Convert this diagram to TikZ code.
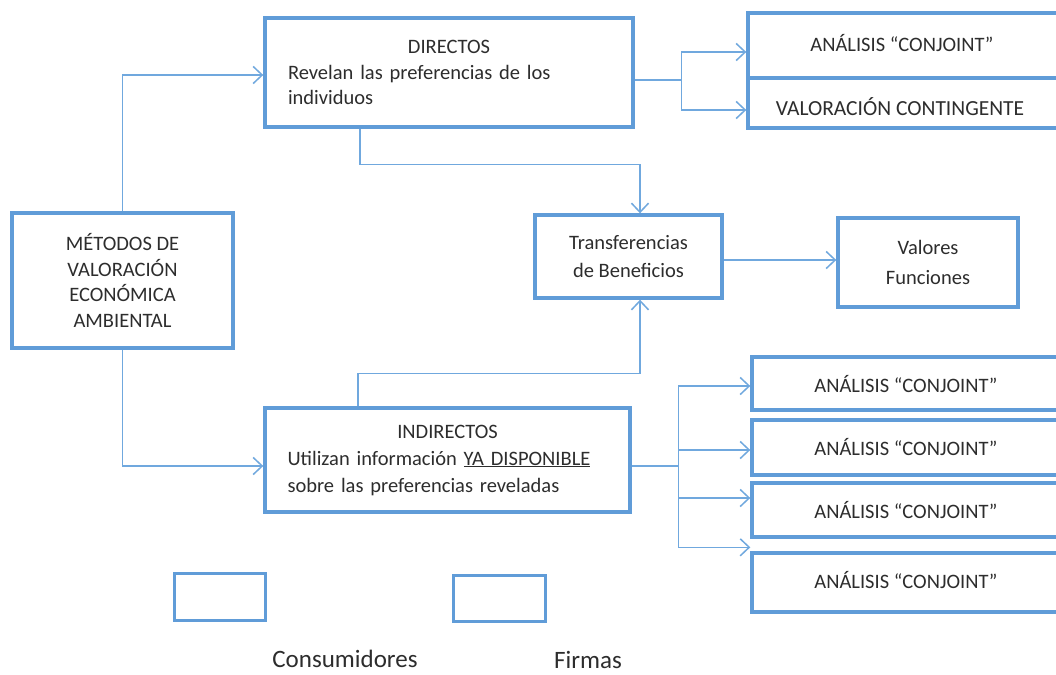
\documentclass[tikz,border=0pt]{standalone}
\usepackage{fontspec}
\setmainfont{Carlito}
\usetikzlibrary{arrows.meta,calc}
\definecolor{boxblue}{RGB}{96,156,216}
\definecolor{linkblue}{RGB}{112,168,222}
\definecolor{ink}{RGB}{45,45,45}
\tikzset{
  box/.style={draw=boxblue, line width=3.4pt, fill=white, text=ink, inner sep=0pt},
  legbox/.style={draw=boxblue, line width=3pt, fill=white},
  conn/.style={draw=linkblue, line width=1.5pt},
  arr/.style={conn, -{Straight Barb[length=9pt,width=17pt,line width=1.5pt]}},
  txt/.style={text=ink, inner sep=0pt},
  big/.style={font=\fontsize{20.5}{25.5}\selectfont},
}
\begin{document}
\begin{tikzpicture}[x=1pt,y=-1pt]
\useasboundingbox (0,0) rectangle (1056,674);
\fill[white] (0,0) rectangle (1056,674);
\clip (0,0) rectangle (1056,674);

% main boxes
\node[box, big, minimum width=221pt, minimum height=135pt, align=center] (met) at (122.5,280.5)
  {MÉTODOS DE\\VALORACIÓN\\ECONÓMICA\\AMBIENTAL};
\node[box, big, minimum width=368pt, minimum height=109pt, text width=322pt, align=left] (dir) at (449,72.5)
  {\makebox[322pt]{DIRECTOS}\\Revelan las preferencias de los\\individuos};
\node[box, minimum width=365pt, minimum height=104pt, text width=320pt, align=left,
  font=\fontsize{20.5}{27}\selectfont] (ind) at (447.5,460)
  {\makebox[320pt]{INDIRECTOS}\\Utilizan información \underline{YA DISPONIBLE}\\sobre las preferencias reveladas};
\node[box, minimum width=187pt, minimum height=83pt, align=center,
  font=\fontsize{20.5}{28}\selectfont] (tr) at (628.5,256.5)
  {Transferencias\\de Beneficios};
\node[box, minimum width=180pt, minimum height=89pt, align=center,
  font=\fontsize{20.5}{30}\selectfont] (val) at (928,262.5)
  {Valores\\Funciones};

% right-hand boxes (extend past the right edge)
\node[box, minimum width=352pt, minimum height=65pt] (c1) at (924,45.5) {};
\node[box, minimum width=352pt, minimum height=50pt] (c2) at (924,103) {};
\node[box, minimum width=348pt, minimum height=53pt] (ra) at (926,383.5) {};
\node[box, minimum width=348pt, minimum height=55pt] (rb) at (926,447.5) {};
\node[box, minimum width=348pt, minimum height=54pt] (rc) at (926,510) {};
\node[box, minimum width=348pt, minimum height=59pt] (rd) at (926,582.5) {};

\node[txt, big] (t1) at (902,43) {ANÁLISIS “CONJOINT”};
\node[txt, font=\fontsize{21.5}{25}\selectfont] (t2) at (900,107) {VALORACIÓN CONTINGENTE};
\node[txt, big] (ta) at (906,384) {ANÁLISIS “CONJOINT”};
\node[txt, big] (tb) at (906,447) {ANÁLISIS “CONJOINT”};
\node[txt, big] (tc) at (906,510) {ANÁLISIS “CONJOINT”};
\node[txt, big] (td) at (906,580) {ANÁLISIS “CONJOINT”};

% legend
\node[legbox, minimum width=91pt, minimum height=47pt] (leg1) at (219.5,596.5) {};
\node[legbox, minimum width=92pt, minimum height=46pt] (leg2) at (499,598) {};
\node[txt, font=\fontsize{25}{28}\selectfont] (lc) at (345,659) {Consumidores};
\node[txt, font=\fontsize{25}{28}\selectfont] (lf) at (588,660) {Firmas};

% connectors
\draw[arr] (met.north) |- ([yshift=-2.5pt]dir.west);
\draw[arr] (met.south) |- ([yshift=-6pt]ind.west);
\draw[arr] ([xshift=-89pt]dir.south) -- ++(0,36) -| ([xshift=11.5pt]tr.north);
\draw[arr] ([xshift=-89.5pt]ind.north) -- ++(0,-33) -| ([xshift=11.5pt]tr.south);
\draw[arr] ([yshift=-3.5pt]tr.east) -- ([yshift=-3.5pt]tr.east -| val.west);

\draw[conn] ([yshift=-7.5pt]dir.east) -- ++(47,0) coordinate (j1);
\draw[arr] (j1) |- ([yshift=-6.5pt]c1.west);
\draw[arr] (j1) |- ([yshift=-7pt]c2.west);

\draw[conn] ([yshift=-6pt]ind.east) -- ++(47,0) coordinate (j2);
\draw[arr] (j2) |- ([yshift=-2.5pt]ra.west);
\draw[arr] (j2) |- ([yshift=-2.5pt]rb.west);
\draw[arr] (j2) |- ([yshift=12pt]rc.west);
\draw[arr] (j2) |- ([yshift=4pt]rd.north west);
\end{tikzpicture}
\end{document}
